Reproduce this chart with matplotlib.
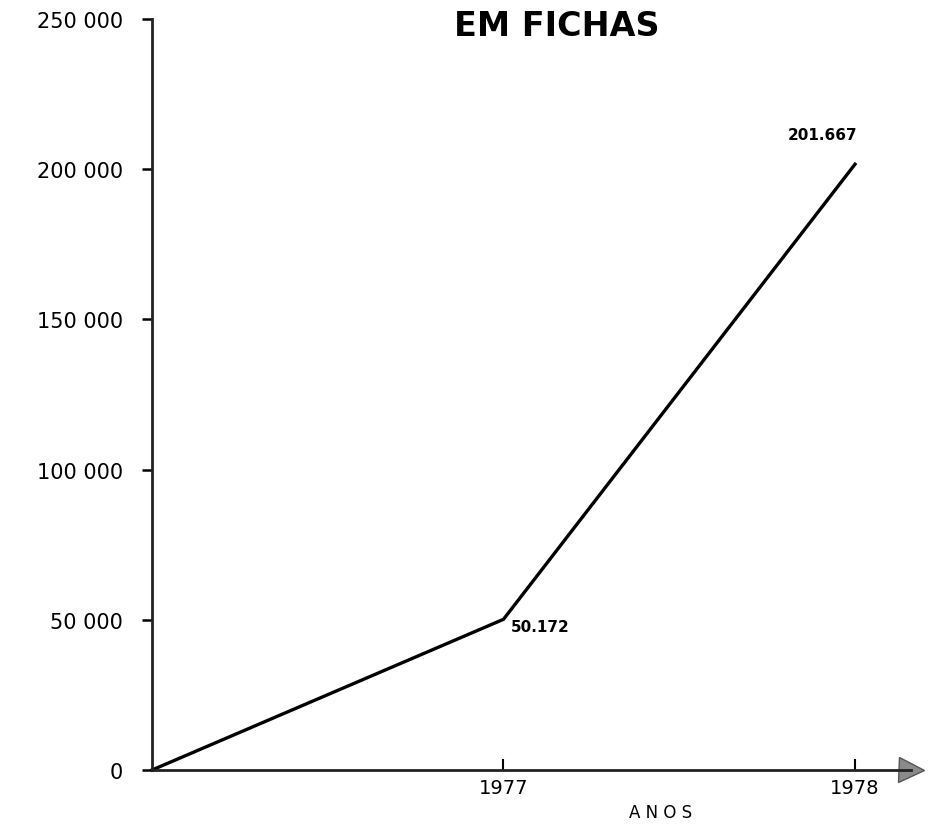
import matplotlib.pyplot as plt

# dados
anos = [1976, 1977, 1978]
fichas = [0, 50172, 201667]
rotulos_pontos = ['', '50.172', '201.667']
anos_ticks = [1977, 1978]
y_ticks = [0, 50000, 100000, 150000, 200000, 250000]
y_rotulos = ['0', '50 000', '100 000', '150 000', '200 000', '250 000']

x_fim = 1978.16

fig = plt.figure(figsize=(9.3, 8.28), dpi=100)
ax = fig.add_axes([0.1634, 0.0688, 0.824 * (x_fim - 1976) / 2.18, 0.907])

ax.plot(anos, fichas, color='black', linewidth=2.4, solid_joinstyle='miter', clip_on=False)

# rótulos dos pontos
ax.text(anos[1] + 0.02, fichas[1] - 2500, rotulos_pontos[1], fontsize=11, fontweight='bold',
        ha='left', va='center')
ax.text(anos[2] - 0.19, fichas[2] + 10000, rotulos_pontos[2], fontsize=11, fontweight='bold',
        ha='left', va='center')

ax.set_xlim(1976, x_fim)
ax.set_ylim(0, 250000)

for lado in ['top', 'right']:
    ax.spines[lado].set_visible(False)
for lado in ['left', 'bottom']:
    ax.spines[lado].set_linewidth(2.0)
    ax.spines[lado].set_color('#222222')

ax.set_yticks(y_ticks)
ax.set_yticklabels(y_rotulos, fontsize=15)
ax.tick_params(axis='y', direction='out', length=7, width=1.8, pad=14)

ax.set_xticks(anos_ticks)
ax.set_xticklabels([str(a) for a in anos_ticks], fontsize=14)
ax.tick_params(axis='x', direction='in', length=8, width=1.5, pad=6)

# seta no fim do eixo x
ax.plot([x_fim], [0], marker='>', markersize=18, color='#8a8a8a',
        markeredgecolor='#555555', clip_on=False)

fig.text(0.71, 0.018, 'A N O S', fontsize=12, ha='center', va='center')
fig.text(0.599, 0.968, 'EM FICHAS', fontsize=24, fontweight='bold', ha='center', va='center')

fig.savefig('out.png', dpi=100)
